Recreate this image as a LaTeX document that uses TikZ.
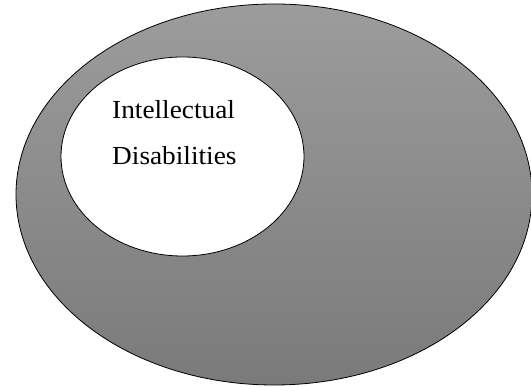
\documentclass[tikz,border=0pt]{standalone}
\usepackage{fontspec}
\setmainfont[FakeStretch=1.05]{Liberation Serif}
\usetikzlibrary{shapes.geometric}
\definecolor{shadetop}{RGB}{156,156,156}
\definecolor{shadebot}{RGB}{122,122,122}
\tikzset{
  blob/.style={ellipse, draw=black, line width=0.8pt, inner sep=0pt},
  lbl/.style={anchor=base west, inner sep=0pt, font=\fontsize{26pt}{30pt}\selectfont}
}
\begin{document}
\begin{tikzpicture}[x=1pt,y=1pt]
\useasboundingbox (0,0) rectangle (531,387);
\node[blob, minimum width=516pt, minimum height=381pt, top color=shadetop, bottom color=shadebot] (outer) at (274,192.5) {};
\node[blob, fill=white, minimum width=243pt, minimum height=199pt] (inner) at (182.5,230.5) {};
\node[lbl] (t1) at (112,268) {Intellectual};
\node[lbl] (t2) at (112,222) {Disabilities};
\end{tikzpicture}
\end{document}
